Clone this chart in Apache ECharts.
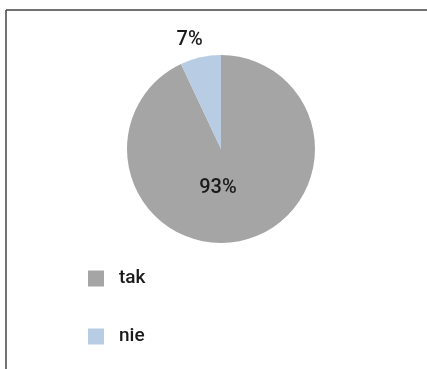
<!DOCTYPE html>
<html>
<head>
<meta charset="utf-8">
<script src="https://cdn.jsdelivr.net/npm/echarts@6/dist/echarts.min.js"></script>
<style>
  html, body { margin: 0; padding: 0; background: #fff; }
  #chart { width: 427px; height: 369px; }
</style>
</head>
<body>
<div id="chart"></div>
<script>
// Answer shares (percent)
const categories = ['tak', 'nie'];
const values = [93, 7];
const colors = ['#a5a5a5', '#b8cce4'];

const FONT = 'Roboto, "DejaVu Sans", sans-serif';

const chart = echarts.init(document.getElementById('chart'), null, { renderer: 'canvas' });

chart.setOption({
  animation: false,
  backgroundColor: '#ffffff',
  color: colors,
  legend: {
    orient: 'vertical',
    left: 83,
    top: 264,
    itemWidth: 16,
    itemHeight: 16,
    itemGap: 39,
    icon: 'rect',
    data: categories,
    textStyle: {
      fontFamily: FONT,
      fontSize: 19,
      fontWeight: 500,
      color: '#1a1a1a',
      padding: [0, 0, 0, 10]
    }
  },
  graphic: [
    { type: 'line', shape: { x1: 6, y1: 10, x2: 427, y2: 10 }, style: { stroke: '#444', lineWidth: 1.5 } },
    { type: 'line', shape: { x1: 6, y1: 10, x2: 6, y2: 369 }, style: { stroke: '#444', lineWidth: 1.5 } }
  ],
  series: [{
    type: 'pie',
    center: [221, 149],
    radius: [0, 94],
    startAngle: 90,
    clockwise: true,
    label: {
      show: true,
      formatter: '{c}%',
      fontFamily: FONT,
      fontSize: 20,
      fontWeight: 500,
      color: '#1a1a1a'
    },
    labelLine: { show: false },
    labelLayout: function (p) {
      return p.dataIndex === 0 ? { dx: -14, dy: -10 } : { dx: 3, dy: -13 };
    },
    data: categories.map((name, i) => ({
      name: name,
      value: values[i],
      label: i === 0 ? { position: 'inside' } : { position: 'outside', distanceToLabelLine: 0 },
      labelLine: i === 0 ? {} : { length: 4, length2: 0 }
    }))
  }]
});
</script>
</body>
</html>
